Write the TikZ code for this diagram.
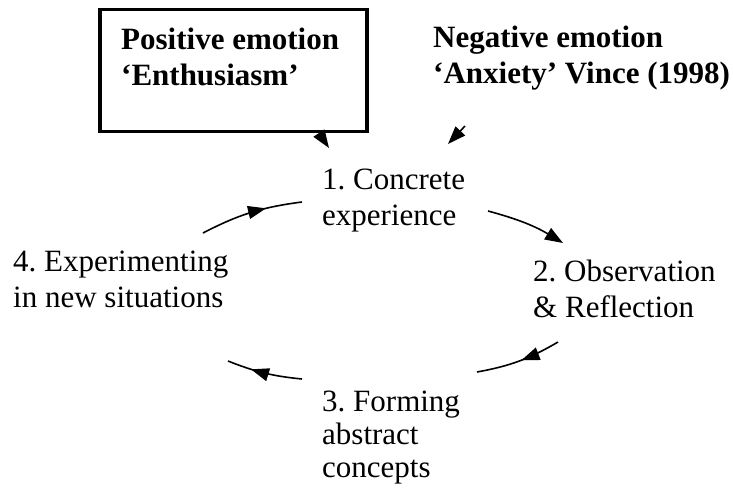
\documentclass[tikz,border=0pt]{standalone}
\usepackage{fontspec}
\setmainfont{Liberation Serif}
\frenchspacing
\usetikzlibrary{arrows.meta,decorations.markings}

\tikzset{
  lbl/.style={anchor=base west,align=left,inner sep=0pt,font=\fontsize{31}{36}\selectfont},
  boldlbl/.style={lbl,font=\fontsize{31}{36}\selectfont\bfseries},
  cyc/.style={line width=1.6pt},
  midtip/.style={postaction={decorate},decoration={markings,
    mark=at position #1 with {\arrow{Triangle[length=18pt,width=13pt]}}}},
  endtip/.style={-{Triangle[length=18pt,width=13pt]}}
}

\begin{document}
\begin{tikzpicture}[x=1pt,y=1pt]
\useasboundingbox (0,0) rectangle (733,488);

% emotions
\node[draw,line width=3.5pt,minimum width=267pt,minimum height=122pt,anchor=north west,inner sep=0pt] (posbox) at (98,480) {};
\node[boldlbl] (pos) at (121,402) {Positive emotion\\‘Enthusiasm’};
\node[boldlbl] (neg) at (433,404) {Negative emotion\\‘Anxiety’ Vince (1998)};

% stages of the cycle (anchored on the last line)
\node[lbl] (concrete) at (322,262) {1. Concrete\\experience};
\node[lbl] (observe) at (533,171) {2. Observation\\\& Reflection};
\node[lbl,font=\fontsize{31}{33}\selectfont] (abstract) at (322,11) {3. Forming\\abstract\\concepts};
\node[lbl] (experiment) at (13,181) {4. Experimenting\\in new situations};

% free ends of the arrows
\coordinate (negtail) at (465,362);
\coordinate (poshead) at (329,340);
\coordinate (neghead) at (448,344);
\coordinate (a1) at (203,255);
\coordinate (a2) at (302,286);
\coordinate (b1) at (488,277);
\coordinate (b2) at (563,245);
\coordinate (c1) at (558,146);
\coordinate (c2) at (477,116);
\coordinate (d1) at (302,109);
\coordinate (d2) at (228,127);

% emotion arrows
\draw[cyc,endtip] ([xshift=86pt]posbox.south) -- (poshead);
\draw[cyc,endtip] (negtail) -- (neghead);

% learning cycle
\draw[cyc,midtip=0.65] (a1) to[bend left=10] (a2);
\draw[cyc,endtip] (b1) to[bend left=8] (b2);
\draw[cyc,midtip=0.47] (c1) to[bend left=10] (c2);
\draw[cyc,midtip=0.68] (d1) to[bend left=8] (d2);
\end{tikzpicture}
\end{document}
